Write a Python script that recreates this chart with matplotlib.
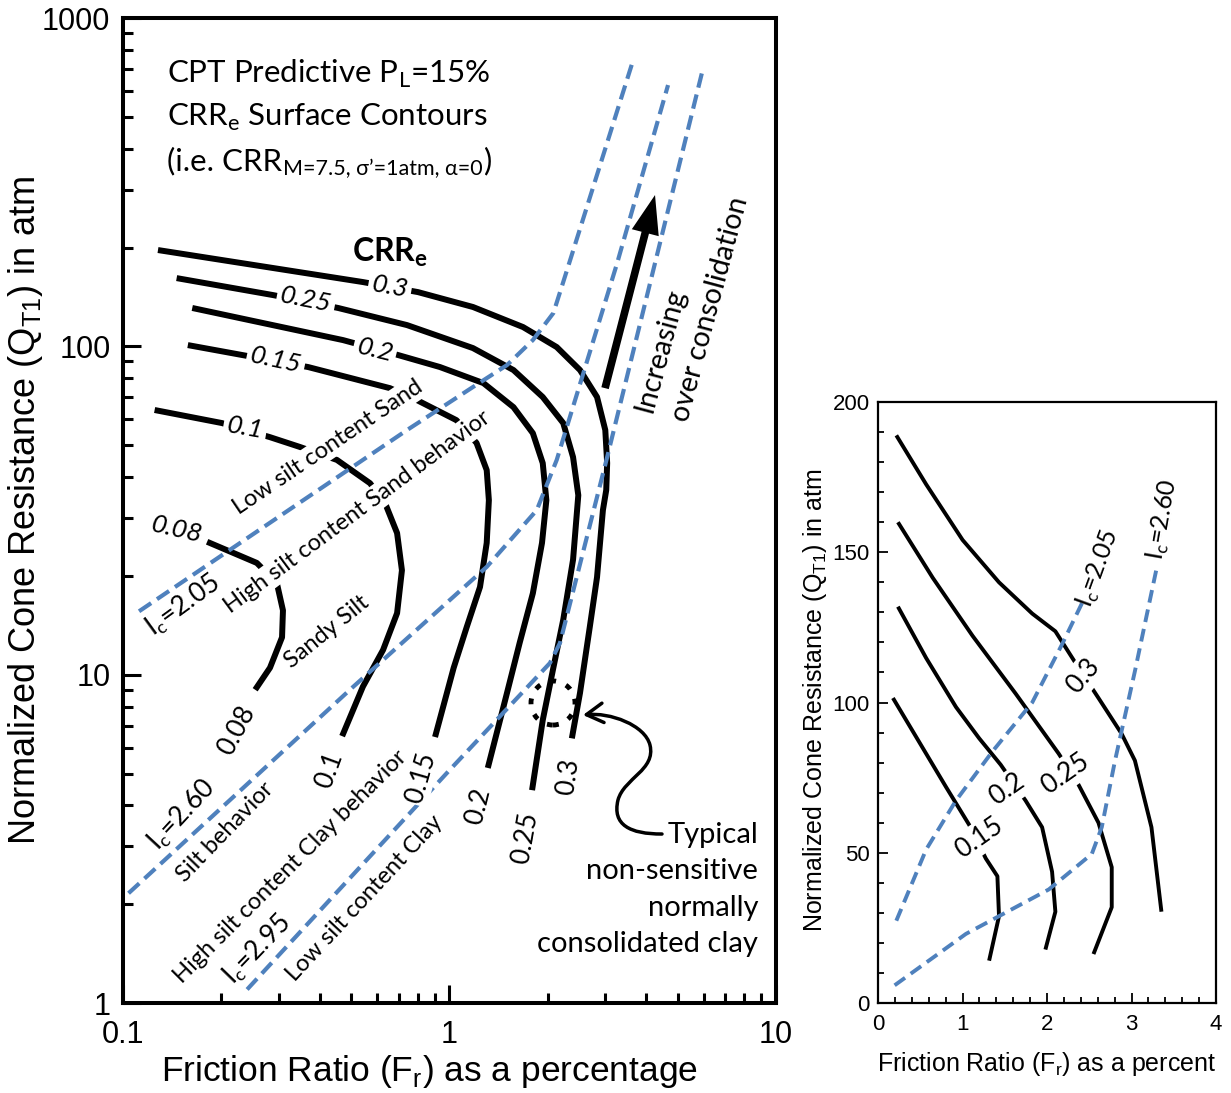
import numpy as np
import matplotlib.pyplot as plt
from matplotlib.patches import Ellipse, FancyArrowPatch
from matplotlib.path import Path
from matplotlib.ticker import LogLocator, MultipleLocator, NullFormatter

plt.rcParams['font.family'] = ['Liberation Sans', 'DejaVu Sans']
NOTE = ['Lato', 'DejaVu Sans']
BLUE = '#4F81BD'

# CRRe contours, log-log chart: Fr (%) vs QT1 (atm)
crr30_fr = [0.128, 0.543, 0.801, 1.18, 1.68, 2.13, 2.51, 2.83, 3.00, 3.04, 3.02, 2.95, 2.83, 2.69, 2.51, 2.37]
crr30_qt = [196.5, 157, 146.3, 131.8, 114.5, 99.5, 84.7, 70.1, 55.6, 44.1, 36.5, 31.7, 19.8, 14.0, 8.8, 6.4]
crr25_fr = [0.146, 0.288, 0.456, 0.741, 1.18, 1.57, 1.93, 2.23, 2.39, 2.48, 2.39, 2.23, 2.08, 1.93, 1.79]
crr25_qt = [161.4, 143.3, 130.9, 116.1, 98.8, 84.7, 70.1, 58.4, 46.0, 35.2, 22.4, 14.7, 10.5, 7.27, 4.45]
crr20_fr = [0.163, 0.472, 0.696, 0.935, 1.27, 1.57, 1.80, 1.93, 1.98, 1.92, 1.80, 1.64, 1.50, 1.31]
crr20_qt = [130.9, 104.5, 94.1, 86.5, 77.3, 65.3, 54.4, 44.1, 34.0, 25.2, 17.7, 12.5, 8.8, 5.2]
crr15_fr = [0.158, 0.232, 0.369, 0.657, 0.795, 1.05, 1.21, 1.30, 1.32, 1.30, 1.24, 1.13, 1.03, 0.903]
crr15_qt = [100.9, 94.1, 86.5, 74.6, 68.6, 59.6, 50.8, 42.0, 34.0, 25.2, 18.5, 14.0, 10.5, 6.46]
crr10_fr = [0.125, 0.201, 0.282, 0.348, 0.452, 0.571, 0.635, 0.691, 0.715, 0.691, 0.626, 0.543, 0.469]
crr10_qt = [64.0, 58.4, 52.9, 49.4, 45.1, 38.3, 33.3, 27.0, 20.8, 15.4, 11.9, 9.2, 6.5]
crr08_fr = [0.181, 0.257, 0.296, 0.309, 0.307, 0.282, 0.254]
crr08_qt = [25.4, 21.9, 19.0, 15.7, 13.0, 10.5, 9.0]

# Ic soil behaviour boundaries
ic205_fr = [0.112, 0.741, 1.18, 1.50, 1.80, 2.08, 2.23, 3.62]
ic205_qt = [15.6, 55.6, 75.2, 87.7, 104.5, 126.3, 157, 724]
ic260_fr = [0.104, 0.506, 1.30, 1.85, 2.13, 3.26, 4.67]
ic260_qt = [2.16, 9.17, 21.3, 31.7, 45.1, 179, 625]
ic295_fr = [0.240, 1.00, 2.03, 2.18, 3.04, 5.94]
ic295_qt = [1.10, 5.12, 10.85, 12.5, 46.0, 685]

# same contours on linear axes (inset)
lin30_fr = [0.216, 0.569, 1.000, 1.431, 1.824, 2.098, 2.333, 2.608, 2.882, 3.039, 3.235, 3.353]
lin30_qt = [188.9, 172.6, 154.1, 140.0, 129.6, 123.7, 113.3, 101.5, 89.6, 80.7, 58.5, 30.4]
lin25_fr = [0.235, 0.647, 1.118, 1.627, 2.137, 2.373, 2.608, 2.765, 2.765, 2.549]
lin25_qt = [160.0, 141.5, 122.2, 103.0, 83.0, 72.6, 60.0, 45.2, 31.9, 16.3]
lin20_fr = [0.235, 0.569, 0.922, 1.196, 1.451, 1.745, 1.941, 2.059, 2.098, 1.980]
lin20_qt = [131.9, 114.8, 98.5, 88.1, 79.3, 67.4, 58.5, 43.7, 30.4, 17.8]
lin15_fr = [0.176, 0.490, 0.804, 1.078, 1.275, 1.412, 1.431, 1.314]
lin15_qt = [101.5, 86.7, 71.9, 59.3, 48.1, 42.2, 28.9, 14.1]
lin205_fr = [0.216, 0.569, 0.922, 1.353, 1.824, 2.176, 2.431]
lin205_qt = [27.4, 51.1, 67.4, 83.7, 100.0, 119.3, 134.1]
lin260_fr = [0.196, 1.039, 2.020, 2.529, 2.647, 2.804, 3.039, 3.294]
lin260_qt = [5.9, 23.0, 37.8, 49.6, 58.5, 80.7, 110.4, 144.4]

fig = plt.figure(figsize=(12.31, 10.93), dpi=100)

# ---------------- main log-log chart ----------------
ax = fig.add_axes([0.0999, 0.0823, 0.5305, 0.9012])
ax.set_xscale('log')
ax.set_yscale('log')

for fr, qt in [(crr30_fr, crr30_qt), (crr25_fr, crr25_qt), (crr20_fr, crr20_qt),
               (crr15_fr, crr15_qt), (crr10_fr, crr10_qt), (crr08_fr, crr08_qt)]:
    ax.plot(fr, qt, color='black', lw=4.3, solid_capstyle='butt', solid_joinstyle='round', zorder=2)
for fr, qt in [(ic205_fr, ic205_qt), (ic260_fr, ic260_qt), (ic295_fr, ic295_qt)]:
    ax.plot(fr, qt, color=BLUE, lw=3.0, ls=(0, (3.5, 1.7)), zorder=3)

ax.set_xlim(0.1, 10)
ax.set_ylim(1, 1000)
ax.set_xticks([0.1, 1, 10], labels=['0.1', '1', '10'])
ax.set_yticks([1, 10, 100, 1000], labels=['1', '10', '100', '1000'])
ax.xaxis.set_minor_locator(LogLocator(base=10, subs=np.arange(2, 10)))
ax.yaxis.set_minor_locator(LogLocator(base=10, subs=np.arange(2, 10)))
ax.xaxis.set_minor_formatter(NullFormatter())
ax.yaxis.set_minor_formatter(NullFormatter())
ax.tick_params(which='both', direction='in', width=2.2, labelsize=22)
ax.tick_params(which='major', length=13)
ax.tick_params(which='minor', length=7)
ax.tick_params(axis='x', pad=12)
ax.tick_params(axis='y', pad=9)
for sp in ax.spines.values():
    sp.set_linewidth(2.9)

ax.set_xlabel('Friction Ratio (F$_\\mathregular{r}$) as a percentage', fontsize=25.5)
ax.set_ylabel('Normalized Cone Resistance (Q$_\\mathregular{T1}$) in atm', fontsize=26)
ax.xaxis.set_label_coords(0.47, -0.051)
ax.yaxis.set_label_coords(-0.119, 0.5)


def note(a, x, y, s, size, rot=0, mask=False, pad=2.5, **kw):
    box = dict(facecolor='white', edgecolor='none', pad=pad) if mask else None
    kw.setdefault('ha', 'center')
    kw.setdefault('va', 'center')
    return a.text(x, y, s, fontsize=size, rotation=rot, family=NOTE, rotation_mode='anchor',
                  bbox=box, zorder=5, **kw)


# title block
note(ax, 0.1364, 634, 'CPT Predictive P$_\\mathregular{L}$=15%', 22.5, ha='left', va='baseline')
note(ax, 0.1364, 469, 'CRR$_\\mathregular{e}$ Surface Contours', 22.5, ha='left', va='baseline')
t_ie = note(ax, 0.1364, 344, '(i.e. CRR', 22.5, ha='left', va='baseline')
t_sub = ax.annotate('M=7.5, σ’=1atm, α=0', xy=(1, 0), xycoords=t_ie, xytext=(0.5, 0),
                    textcoords='offset points', fontsize=15.5, family=NOTE, ha='left', va='baseline')
ax.annotate(')', xy=(1, 0), xycoords=(t_sub, t_ie), xytext=(0.5, 0), textcoords='offset points',
            fontsize=22.5, family=NOTE, ha='left', va='bottom')
note(ax, 0.657, 194, 'CRR$_\\mathregular{e}$', 23, fontweight='bold')

# contour labels along the upper branches
note(ax, 0.657, 151.6, '0.3', 19, -10, mask=True, style='italic')
note(ax, 0.3635, 138.4, '0.25', 19, -11, mask=True, style='italic')
note(ax, 0.591, 97.4, '0.2', 19, -14, mask=True, style='italic')
note(ax, 0.294, 90.8, '0.15', 19, -12, mask=True, style='italic')
note(ax, 0.2365, 56.4, '0.1', 19, -10, mask=True, style='italic')
note(ax, 0.1463, 27.6, '0.08', 19, -13, style='italic')

# contour labels at the lower ends
note(ax, 0.2235, 6.78, '0.08', 19, 62)
note(ax, 0.4305, 5.12, '0.1', 19, 70)
note(ax, 0.818, 4.85, '0.15', 19, 74, mask=True, pad=1)
note(ax, 1.223, 3.98, '0.2', 19, 76)
note(ax, 1.703, 3.18, '0.25', 19, 80)
note(ax, 2.307, 4.9, '0.3', 19, 82)

# soil behaviour zones
note(ax, 0.4245, 49.4, 'Low silt content Sand', 17, 34, mask=True, pad=1.5)
note(ax, 0.5208, 31.3, 'High silt content Sand behavior', 17, 36.5, mask=True, pad=1.5)
note(ax, 0.1527, 16.3, 'I$_\\mathregular{c}$=2.05', 19, 36)
note(ax, 0.4215, 13.5, 'Sandy Silt', 17, 39)
note(ax, 0.1516, 3.73, 'I$_\\mathregular{c}$=2.60', 19, 47)
note(ax, 0.2053, 3.32, 'Silt behavior', 17, 46)
note(ax, 0.327, 2.61, 'High silt content Clay behavior', 17, 45)
note(ax, 0.2573, 1.45, 'I$_\\mathregular{c}$=2.95', 19, 46)
note(ax, 0.5511, 2.09, 'Low silt content Clay', 17, 47)

# over-consolidation trend
ax.annotate('', xy=(4.26, 289), xytext=(2.995, 74.6),
            arrowprops=dict(width=5.5, headwidth=20, headlength=28, facecolor='black',
                            edgecolor='black', lw=0, shrink=0))
note(ax, 4.475, 61.3, 'Increasing\nover consolidation', 20.5, 75, ha='left', multialignment='left',
     linespacing=1.55)

# normally consolidated clay marker
ax.add_patch(Ellipse((0.6585, 0.3046), 0.0674, 0.0447, transform=ax.transAxes, fill=False,
                     ec='black', lw=3.5, ls=(0, (1.2, 2.2)), zorder=4))
verts = [(0.8254, 0.1716), (0.7764, 0.1716), (0.7489, 0.1807), (0.7580, 0.2061),
         (0.7672, 0.2284), (0.8162, 0.2365), (0.8070, 0.2619),
         (0.7994, 0.2822), (0.7458, 0.2954), (0.7044, 0.2924)]
codes = [Path.MOVETO] + [Path.CURVE4] * 9
ax.add_patch(FancyArrowPatch(path=Path(verts, codes), arrowstyle='->,head_length=0.6,head_width=0.35',
                             mutation_scale=20, lw=2.5, color='black', transform=ax.transAxes, zorder=4))
note(ax, 8.81, 2.22, 'Typical\nnon-sensitive\nnormally\nconsolidated clay', 21,
     ha='right', multialignment='right', linespacing=1.5)

# ---------------- inset, linear axes ----------------
ax2 = fig.add_axes([0.7133, 0.0823, 0.2746, 0.5499])
for fr, qt in [(lin30_fr, lin30_qt), (lin25_fr, lin25_qt), (lin20_fr, lin20_qt), (lin15_fr, lin15_qt)]:
    ax2.plot(fr, qt, color='black', lw=2.8, solid_capstyle='butt', solid_joinstyle='round', zorder=2)
for fr, qt in [(lin205_fr, lin205_qt), (lin260_fr, lin260_qt)]:
    ax2.plot(fr, qt, color=BLUE, lw=2.8, ls=(0, (3.3, 1.8)), zorder=3)

ax2.set_xlim(0, 4)
ax2.set_ylim(0, 200)
ax2.xaxis.set_major_locator(MultipleLocator(1))
ax2.xaxis.set_minor_locator(MultipleLocator(0.2))
ax2.yaxis.set_major_locator(MultipleLocator(50))
ax2.yaxis.set_minor_locator(MultipleLocator(10))
ax2.tick_params(which='both', direction='in', width=1.3, labelsize=16)
ax2.tick_params(which='major', length=7)
ax2.tick_params(which='minor', length=4)
ax2.tick_params(axis='x', pad=8)
ax2.tick_params(axis='y', pad=6)
for sp in ax2.spines.values():
    sp.set_linewidth(1.6)
ax2.set_xlabel('Friction Ratio (F$_\\mathregular{r}$) as a percent', fontsize=18)
ax2.set_ylabel('Normalized Cone Resistance (Q$_\\mathregular{T1}$) in atm', fontsize=18)
ax2.xaxis.set_label_coords(0.5, -0.078)
ax2.yaxis.set_label_coords(-0.145, 0.504)

note(ax2, 2.43, 108.9, '0.3', 19, 50, mask=True)
note(ax2, 2.216, 76.3, '0.25', 19, 35, mask=True)
note(ax2, 1.529, 71.1, '0.2', 19, 35, mask=True)
note(ax2, 1.196, 54.8, '0.15', 19, 35, mask=True)
note(ax2, 2.608, 144.4, 'I$_\\mathregular{c}$=2.05', 18, 70)
note(ax2, 3.373, 160.7, 'I$_\\mathregular{c}$=2.60', 18, 80)

fig.savefig('out.png', dpi=100)
